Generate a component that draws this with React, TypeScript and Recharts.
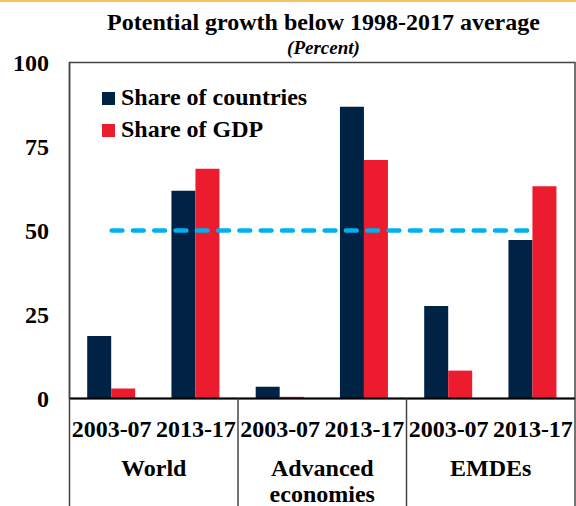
import { ComposedChart, Bar, Line, XAxis, YAxis, Legend, ReferenceArea } from 'recharts';

const periods = ['2003-07', '2013-17', '2003-07', '2013-17', '2003-07', '2013-17'];
const groupLabels = [['World'], ['Advanced', 'economies'], ['EMDEs']];
const seriesNames = ['Share of countries', 'Share of GDP'];
const shareOfCountries = [18.6, 61.8, 3.5, 86.8, 27.5, 47.2];
const shareOfGdp = [3.0, 68.4, 0.5, 71.0, 8.3, 63.2];
const benchmark = [50, 50, 50, 50, 50, 50];
const yTicks = [0, 25, 50, 75, 100];

const data = periods.map((period, i) => ({
  period,
  countries: shareOfCountries[i],
  gdp: shareOfGdp[i],
  avg: benchmark[i],
}));

const FONT = '"Liberation Serif", serif';
const NAVY = '#002345';
const RED = '#EC1C2E';
const CYAN = '#00B0F0';

const WIDTH = 576;
const HEIGHT = 506;
const Y_AXIS_W = 69.5;
const RIGHT = 1;
const PLOT_W = WIDTH - Y_AXIS_W - RIGHT;
const BAND = PLOT_W / periods.length;

function PeriodTick(props: any) {
  const { x, y, index, payload } = props;
  const first = index % 2 === 0;
  const last = index === periods.length - 1;
  const lines = groupLabels[Math.floor(index / 2)];
  const textStyle = { fontFamily: FONT, fontWeight: 'bold' as const, fontSize: 24 };
  return (
    <g>
      <text x={x} y={y + 38} textAnchor="middle" fill="#000" style={textStyle}>
        {payload.value}
      </text>
      {first && (
        <>
          <line x1={x - BAND / 2} x2={x - BAND / 2} y1={y} y2={HEIGHT} stroke="#444" strokeWidth={1.5} />
          {lines.map((l, k) => (
            <text key={l} x={x + BAND / 2} y={y + 77 + k * 26} textAnchor="middle" fill="#000" style={textStyle}>
              {l}
            </text>
          ))}
        </>
      )}
      {last && <line x1={x + BAND / 2} x2={x + BAND / 2} y1={y} y2={HEIGHT} stroke="#444" strokeWidth={1.5} />}
    </g>
  );
}

function renderLegend(props: any) {
  const items = (props.payload || [])
    .filter((p: any) => seriesNames.includes(p.value))
    .sort((a: any, b: any) => seriesNames.indexOf(a.value) - seriesNames.indexOf(b.value));
  return (
    <div style={{ fontFamily: FONT, fontWeight: 'bold', fontSize: 24, lineHeight: '32px', color: '#000' }}>
      {items.map((p: any) => (
        <div key={p.value} style={{ whiteSpace: 'nowrap' }}>
          <span style={{ display: 'inline-block', width: 13, height: 13, background: p.color, marginRight: 6 }} />
          {p.value}
        </div>
      ))}
    </div>
  );
}

export default function App() {
  return (
    <div style={{ position: 'absolute', left: 0, top: 0, width: WIDTH, height: HEIGHT, background: '#fff', overflow: 'hidden' }}>
      <div style={{ position: 'absolute', left: 0, top: 0, width: WIDTH, height: 2, background: '#F8C25C' }} />
      <div
        style={{
          position: 'absolute', left: 323.5, top: 10, transform: 'translateX(-50%)', whiteSpace: 'nowrap',
          fontFamily: FONT, fontWeight: 'bold', fontSize: 24, lineHeight: '24px', color: '#000',
        }}
      >
        Potential growth below 1998-2017 average
      </div>
      <div
        style={{
          position: 'absolute', left: 323.5, top: 38, transform: 'translateX(-50%)', whiteSpace: 'nowrap',
          fontFamily: FONT, fontWeight: 'bold', fontStyle: 'italic', fontSize: 19, lineHeight: '19px', color: '#000',
        }}
      >
        (Percent)
      </div>
      <ComposedChart
        width={WIDTH}
        height={HEIGHT}
        data={data}
        margin={{ top: 62.5, right: RIGHT, left: 0, bottom: 0 }}
        barCategoryGap="21%"
        barGap={0}
      >
        <ReferenceArea y1={0} y2={100} fill="none" stroke="#444" strokeWidth={1.5} ifOverflow="visible" />
        <XAxis
          dataKey="period"
          height={107.5}
          interval={0}
          tickLine={false}
          tickSize={0}
          tickMargin={0}
          axisLine={{ stroke: '#000', strokeWidth: 2 }}
          tick={<PeriodTick />}
        />
        <YAxis
          width={Y_AXIS_W}
          domain={[0, 100]}
          ticks={yTicks}
          tickLine={false}
          tickSize={0}
          tickMargin={20.5}
          axisLine={{ stroke: '#444', strokeWidth: 1.5 }}
          tick={{ fill: '#000', fontSize: 24, fontWeight: 'bold', fontFamily: FONT }}
        />
        <Legend
          layout="horizontal"
          verticalAlign="middle"
          align="center"
          content={renderLegend}
          wrapperStyle={{ left: 102, top: 81, width: 300 }}
        />
        <Bar dataKey="countries" name={seriesNames[0]} fill={NAVY} isAnimationActive={false} />
        <Bar dataKey="gdp" name={seriesNames[1]} fill={RED} isAnimationActive={false} />
        <Line
          dataKey="avg"
          type="linear"
          stroke={CYAN}
          strokeWidth={4.5}
          strokeDasharray="10.8 10.5"
          strokeLinecap="round"
          dot={false}
          activeDot={false}
          legendType="none"
          isAnimationActive={false}
        />
      </ComposedChart>
    </div>
  );
}
